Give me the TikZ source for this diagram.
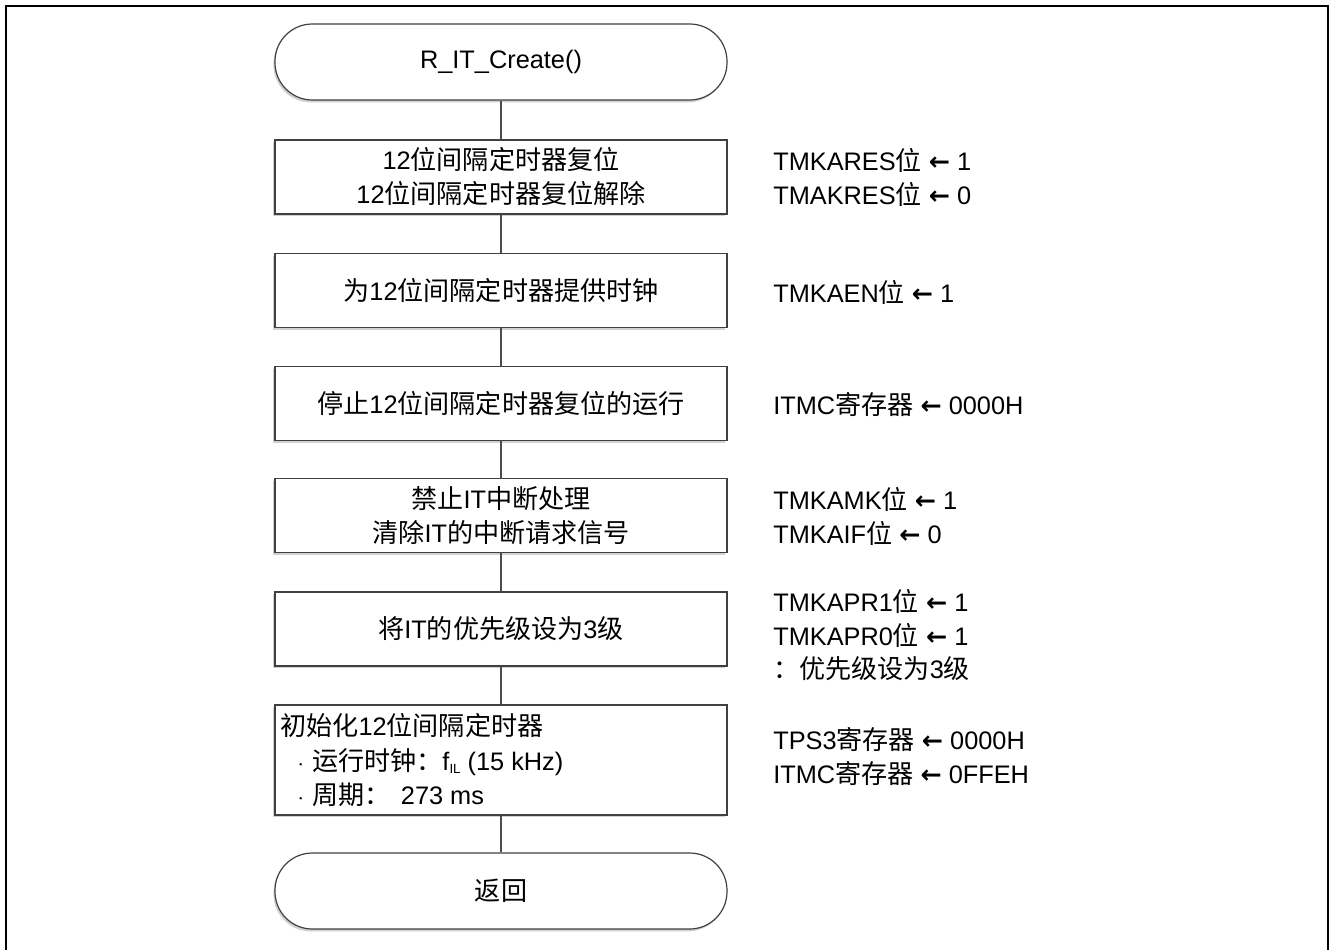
\documentclass[tikz,border=0pt]{standalone}
\usepackage{fontspec}
\usetikzlibrary{shadows}
\setmainfont{Liberation Sans}
\newfontfamily\cjk[Scale=1.03]{Noto Sans CJK SC}
\newfontfamily\arrfont{DejaVu Sans}
\newcommand\zh[1]{{\cjk #1}}
\newcommand\lar{{\arrfont\bfseries ←}}
\begin{document}
\begin{tikzpicture}[x=0.75pt,y=-0.75pt,
  every node/.style={font=\fontsize{19}{25.5}\selectfont, inner sep=0pt},
  shad/.style={drop shadow={shadow xshift=-1.2pt, shadow yshift=-1.8pt, opacity=0.18, fill=black}},
  term/.style={draw=black!75, line width=0.9pt, rounded corners=28pt, minimum width=339pt, minimum height=57pt, fill=white, shad},
  proc/.style={draw=black!75, line width=0.9pt, minimum width=339pt, minimum height=55.5pt, fill=white, align=center, shad},
  note/.style={anchor=west, align=left},
  flow/.style={draw=black!70, line width=0.8pt}]
\useasboundingbox (0,0) rectangle (1330,949);
\draw[line width=2.2pt] (6,960) -- (6,6) -- (1328,6) -- (1328,960);

\node[term] (start) at (501,62) {R\_IT\_Create()};
\node[proc] (b1) at (501,177) {12\zh{位间隔定时器复位}\\12\zh{位间隔定时器复位解除}};
\node[proc] (b2) at (501,290.5) {\zh{为}12\zh{位间隔定时器提供时钟}};
\node[proc] (b3) at (501,403.5) {\zh{停止}12\zh{位间隔定时器复位的运行}};
\node[proc] (b4) at (501,515.5) {\zh{禁止}IT\zh{中断处理}\\\zh{清除}IT\zh{的中断请求信号}};
\node[proc] (b5) at (501,629) {\zh{将}IT\zh{的优先级设为}3\zh{级}};
\node[proc, minimum height=82.5pt] (b6) at (501,760) {};
\node[term] (end) at (501,891) {\zh{返回}};

\node[anchor=north west, align=left, font=\fontsize{19}{26}\selectfont] (b6t) at (280,713)
  {\zh{初始化}12\zh{位间隔定时器}\\
   \hspace*{13pt}$\cdot$\hspace{6pt}\zh{运行时钟：}f\raisebox{-0.25ex}{\fontsize{10}{10}\selectfont IL} (15 kHz)\\
   \hspace*{13pt}$\cdot$\hspace{6pt}\zh{周期：}\hspace{8pt}273 ms};

\draw[flow] (start) -- (b1);
\draw[flow] (b1) -- (b2);
\draw[flow] (b2) -- (b3);
\draw[flow] (b3) -- (b4);
\draw[flow] (b4) -- (b5);
\draw[flow] (b5) -- (b6);
\draw[flow] (b6) -- (end);

\node[note] (n1) at (773,160) {TMKARES\zh{位} \lar{} 1};
\node[note] (n2) at (773,194) {TMAKRES\zh{位} \lar{} 0};
\node[note] (n3) at (773,292) {TMKAEN\zh{位} \lar{} 1};
\node[note] (n4) at (773,405) {ITMC\zh{寄存器} \lar{} 0000H};
\node[note] (n5) at (773,499) {TMKAMK\zh{位} \lar{} 1};
\node[note] (n6) at (773,533) {TMKAIF\zh{位} \lar{} 0};
\node[note] (n7) at (773,601) {TMKAPR1\zh{位} \lar{} 1};
\node[note] (n8) at (773,635) {TMKAPR0\zh{位} \lar{} 1};
\node[note] (n9) at (773,669) {\zh{：优先级设为}3\zh{级}};
\node[note] (n10) at (773,739) {TPS3\zh{寄存器} \lar{} 0000H};
\node[note] (n11) at (773,773) {ITMC\zh{寄存器} \lar{} 0FFEH};
\end{tikzpicture}
\end{document}
